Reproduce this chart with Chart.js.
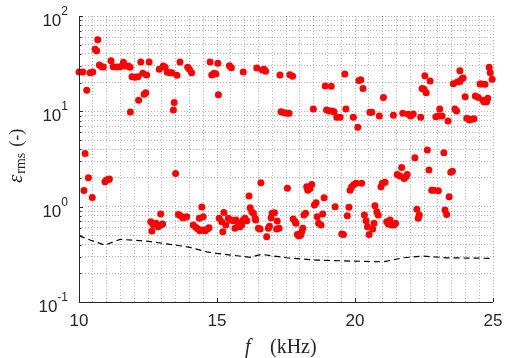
<!DOCTYPE html>
<html>
<head>
<meta charset="utf-8">
<script src="https://cdn.jsdelivr.net/npm/chart.js@4/dist/chart.umd.min.js"></script>
<style>
  html, body { margin: 0; padding: 0; background: #fff; }
</style>
</head>
<body>
<canvas id="chart" width="505" height="358"></canvas>
<script>
// upper cluster (kHz, eps_rms)
const freqHigh = [10.00, 10.14, 10.28, 10.40, 10.50, 10.58, 10.64, 10.68, 10.74, 10.82, 10.88, 11.16, 11.24, 11.37, 11.49, 11.61, 11.67, 11.79, 11.85, 11.86,
  11.92, 12.03, 12.13, 12.16, 12.24, 12.31, 12.36, 12.42, 12.45, 12.54, 12.91, 13.05, 13.12, 13.20, 13.30, 13.36, 13.42, 13.45, 13.55, 13.66,
  13.94, 14.00, 14.08, 14.75, 14.81, 14.89, 14.96, 15.03, 15.05, 15.45, 15.52, 15.95, 16.44, 16.64, 16.70, 16.76, 17.28, 17.32, 17.43, 17.53,
  17.61, 17.64, 17.74, 18.49, 18.92, 18.97, 19.07, 19.16, 19.24, 19.14, 19.34, 19.46, 19.63, 19.67, 19.94, 20.10, 20.14, 20.21, 20.29, 20.54,
  20.61, 20.88, 21.03, 21.39, 21.73, 21.93, 22.02, 22.11, 22.38, 22.43, 22.50, 22.58, 22.53, 22.72, 22.93, 23.02, 23.07, 23.15, 23.37, 23.56,
  23.62, 23.68, 23.71, 23.80, 23.80, 23.87, 23.92, 23.99, 24.05, 24.14, 24.23, 24.31, 24.36, 24.47, 24.53, 24.59, 24.63, 24.68, 24.77, 24.71,
  24.81, 24.86, 24.90, 24.97];
const epsHigh = [25.8, 25.8, 16.6, 25.4, 25.8, 44.7, 43.2, 56.4, 30.6, 29.4, 29.2, 34.0, 29.4, 29.2, 29.4, 32.7, 29.9, 29.9, 29.0, 9.84,
  23.1, 22.8, 23.1, 13.1, 32.9, 25.1, 15.1, 15.7, 24.0, 32.9, 27.6, 29.9, 29.0, 25.7, 25.4, 25.4, 10.3, 12.4, 23.9, 32.9,
  29.0, 27.6, 25.4, 32.9, 24.0, 25.1, 24.6, 31.9, 14.9, 30.1, 28.7, 25.8, 28.4, 27.1, 27.6, 26.3, 24.0, 9.9, 9.66, 9.53,
  9.53, 24.2, 23.3, 10.6, 18.4, 10.3, 10.1, 10.07, 9.9, 18.3, 8.65, 8.65, 24.6, 10.6, 8.65, 6.79, 21.0, 21.4, 17.4, 9.77,
  9.77, 8.93, 14.0, 9.08, 9.53, 9.31, 8.93, 9.37, 8.65, 17.4, 17.0, 15.7, 23.6, 20.8, 8.77, 8.93, 10.6, 8.93, 7.91, 19.5,
  10.6, 10.1, 20.3, 20.6, 26.7, 22.0, 22.4, 14.2, 8.45, 8.11, 8.24, 8.36, 14.5, 14.0, 19.3, 19.3, 13.1, 12.5, 12.6, 19.2,
  13.7, 29.0, 25.4, 21.7];

// lower cluster
const freqLow = [10.22, 10.34, 10.18, 10.48, 10.94, 11.00, 11.06, 11.10, 13.50, 12.60, 12.69, 12.79, 12.87, 12.96, 13.03, 12.64, 12.96, 13.60, 13.68, 13.76,
  13.84, 13.90, 14.14, 14.23, 14.31, 14.38, 14.48, 14.57, 14.65, 14.71, 14.36, 14.45, 14.50, 15.08, 15.17, 15.25, 15.32, 15.41, 15.50, 15.59,
  15.69, 15.77, 15.83, 15.89, 15.95, 16.01, 16.08, 15.21, 15.65, 16.16, 16.20, 16.26, 16.32, 16.38, 16.40, 16.50, 16.56, 16.59, 16.80, 16.86,
  16.90, 16.96, 17.00, 17.08, 17.18, 17.16, 17.25, 17.55, 17.76, 17.83, 17.86, 17.91, 17.97, 18.03, 18.07, 18.11, 18.15, 18.21, 18.25, 18.29,
  18.37, 18.43, 18.53, 18.59, 18.63, 18.68, 18.77, 18.83, 18.88, 19.28, 19.52, 19.58, 19.72, 19.78, 19.82, 19.88, 19.96, 20.04, 20.24, 20.34,
  20.40, 20.45, 20.51, 20.64, 20.69, 20.72, 20.79, 20.84, 20.94, 20.99, 21.09, 21.15, 21.21, 21.27, 21.33, 21.41, 21.47, 21.53, 21.63, 21.69,
  21.78, 21.84, 21.89, 22.17, 22.24, 22.29, 22.33, 22.62, 22.68, 22.78, 22.86, 23.02, 23.22, 23.26, 23.32, 23.41, 23.47, 23.53];
const epsLow = [3.62, 2.01, 1.48, 1.25, 1.82, 1.90, 1.93, 1.95, 2.23, 0.695, 0.652, 0.668, 0.615, 0.641, 0.656, 0.555, 0.836, 0.830, 0.803, 0.765,
  0.773, 0.784, 0.641, 0.607, 0.582, 0.558, 0.568, 0.558, 0.582, 0.601, 0.754, 0.99, 0.784, 0.754, 0.695, 0.871, 0.641, 0.754, 0.723, 0.711,
  0.723, 0.668, 0.615, 0.641, 0.723, 0.754, 0.711, 0.546, 0.592, 1.29, 0.973, 0.883, 0.851, 0.754, 0.723, 0.592, 0.582, 1.78, 0.483, 0.592,
  0.625, 0.765, 0.851, 0.863, 0.706, 0.582, 0.592, 1.56, 0.741, 0.695, 0.668, 0.512, 0.492, 0.504, 0.546, 0.592, 0.817, 0.851, 1.62, 1.49,
  1.55, 1.71, 1.04, 1.10, 0.784, 0.668, 0.641, 0.836, 1.24, 1.00, 0.516, 0.512, 0.803, 0.984, 1.49, 1.62, 1.71, 1.76, 1.76, 0.817,
  0.711, 0.615, 0.512, 0.582, 0.668, 1.02, 0.883, 0.817, 1.62, 1.76, 1.80, 0.695, 0.656, 0.723, 0.641, 0.641, 0.668, 2.18, 2.10, 2.58,
  1.98, 2.06, 2.18, 3.26, 0.937, 0.754, 0.817, 3.93, 2.42, 1.49, 1.49, 1.47, 3.68, 0.92, 0.830, 1.27, 2.29, 2.35];

// dashed reference curve
const freqRef = [10.00, 10.40, 10.94, 11.49, 12.45, 13.66, 14.02, 14.63, 14.99, 16.20, 16.62, 17.53, 18.61, 19.82, 21.03, 21.75, 22.47, 23.32, 24.89, 25.00];
const epsRef = [0.497, 0.447, 0.395, 0.454, 0.435, 0.389, 0.374, 0.336, 0.324, 0.294, 0.316, 0.291, 0.275, 0.269, 0.264, 0.291, 0.303, 0.291, 0.287, 0.287];

const xTicks = [10, 15, 20, 25];
const xGridStep = 0.5;
const yDecades = [0.1, 1, 10, 100];
const yExponents = ['-1', '0', '1', '2'];

const toPoints = (xs, ys) => xs.map((v, i) => ({x: v, y: ys[i]}));

// draws the axis lines, inward ticks, tick labels and titles
const axisText = {
  id: 'axisText',
  afterDraw(chart) {
    const {ctx, chartArea: a, scales: {x, y}} = chart;
    ctx.save();
    ctx.strokeStyle = '#262626';
    ctx.fillStyle = '#262626';
    ctx.lineWidth = 1;
    ctx.setLineDash([]);

    ctx.beginPath();
    ctx.moveTo(a.left + 0.5, a.top);
    ctx.lineTo(a.left + 0.5, a.bottom + 0.5);
    ctx.lineTo(a.right, a.bottom + 0.5);
    xTicks.forEach(v => {
      const px = Math.round(x.getPixelForValue(v)) + 0.5;
      ctx.moveTo(px, a.bottom);
      ctx.lineTo(px, a.bottom - 4);
    });
    y.ticks.forEach(t => {
      const py = Math.round(y.getPixelForValue(t.value)) + 0.5;
      const len = yDecades.includes(t.value) ? 4 : 2.5;
      ctx.moveTo(a.left, py);
      ctx.lineTo(a.left + len, py);
    });
    ctx.stroke();

    // x tick labels
    ctx.font = '17px "Liberation Sans", Arial, sans-serif';
    ctx.textAlign = 'center';
    ctx.textBaseline = 'alphabetic';
    xTicks.forEach(v => ctx.fillText(String(v), x.getPixelForValue(v), a.bottom + 24));

    // y tick labels: 10^n
    yDecades.forEach((v, i) => {
      const py = y.getPixelForValue(v);
      ctx.font = '12px "Liberation Sans", Arial, sans-serif';
      ctx.textAlign = 'right';
      const right = a.left - 11;
      const ew = ctx.measureText(yExponents[i]).width;
      ctx.fillText(yExponents[i], right, py - 1);
      ctx.font = '17px "Liberation Sans", Arial, sans-serif';
      ctx.fillText('10', right - ew, py + 10);
    });

    // x title: f (kHz)
    ctx.textAlign = 'left';
    ctx.font = 'italic 20px "Liberation Serif", serif';
    ctx.fillText('f', 245, 353);
    ctx.font = '20px "Liberation Serif", serif';
    ctx.fillText('(kHz)', 270, 353);

    // y title: eps_rms (-)
    ctx.translate(22, 183);
    ctx.rotate(-Math.PI / 2);
    ctx.font = 'italic 21px "Liberation Serif", serif';
    ctx.fillText('\u03b5', 0, 0);
    let off = ctx.measureText('\u03b5').width + 1;
    ctx.font = '14px "Liberation Serif", serif';
    ctx.fillText('rms', off, 3);
    off += ctx.measureText('rms').width + 6;
    ctx.font = '18px "Liberation Serif", serif';
    ctx.fillText('(-)', off, 0);
    ctx.restore();
  }
};

const gridStyle = {
  color: 'rgba(0,0,0,0.28)',
  lineWidth: 1,
  drawTicks: false
};

new Chart(document.getElementById('chart'), {
  type: 'scatter',
  data: {
    datasets: [
      {
        type: 'line',
        data: toPoints(freqRef, epsRef),
        borderColor: '#000',
        borderWidth: 1.2,
        borderDash: [6, 4],
        pointRadius: 0,
        fill: false,
        tension: 0
      },
      {
        data: toPoints(freqHigh, epsHigh),
        backgroundColor: '#ff0000',
        borderColor: '#ff0000',
        pointRadius: 3.5,
        borderWidth: 0,
        clip: false
      },
      {
        data: toPoints(freqLow, epsLow),
        backgroundColor: '#ff0000',
        borderColor: '#ff0000',
        pointRadius: 3.5,
        borderWidth: 0,
        clip: false
      }
    ]
  },
  options: {
    responsive: false,
    animation: false,
    devicePixelRatio: 1,
    layout: { padding: { left: 0, top: 16, right: 12, bottom: 0 } },
    plugins: { legend: { display: false }, tooltip: { enabled: false } },
    scales: {
      x: {
        type: 'linear',
        min: 10,
        max: 25,
        afterBuildTicks(scale) {
          const ticks = [];
          for (let v = 10; v <= 25 + 1e-9; v += xGridStep) ticks.push({value: Math.round(v * 10) / 10});
          scale.ticks = ticks;
        },
        afterFit(scale) { scale.height = 56; },
        ticks: { display: false },
        grid: gridStyle,
        border: { display: false, dash: [1, 2] }
      },
      y: {
        type: 'logarithmic',
        min: 0.1,
        max: 100,
        afterBuildTicks(scale) {
          const ticks = [];
          yDecades.forEach(d => {
            for (let m = 1; m <= 9; m++) {
              const v = +(d * m).toPrecision(3);
              if (v <= 100) ticks.push({value: v});
            }
          });
          scale.ticks = ticks;
        },
        afterFit(scale) { scale.width = 79; },
        ticks: { display: false },
        grid: gridStyle,
        border: { display: false, dash: [1, 2] }
      }
    }
  },
  plugins: [axisText]
});
</script>
</body>
</html>
